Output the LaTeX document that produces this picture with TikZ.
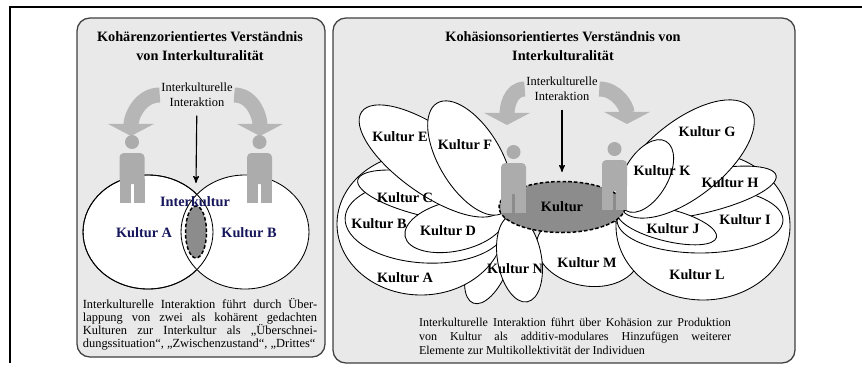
\documentclass[tikz,border=0pt]{standalone}
\usepackage{fontspec}
\setmainfont{Liberation Serif}
\usepackage{tikz}
\usetikzlibrary{calc,positioning,arrows,arrows.meta,shapes.geometric}
\definecolor{panelgray}{RGB}{233,233,233}
\definecolor{figgray}{RGB}{172,172,172}
\definecolor{swooshgray}{RGB}{182,182,182}
\definecolor{darkfill}{RGB}{140,140,140}
\definecolor{navy}{RGB}{22,22,92}
\newcommand{\paratxt}{\tolerance=9999\relax\hyphenpenalty=10000\relax}

\begin{document}
\begin{tikzpicture}[x=0.7pt,y=0.7pt,>=stealth',
    panel/.style={draw=black!75,line width=0.9pt,fill=panelgray,rounded corners=9pt},
    petal/.style={draw,fill=white,line width=0.6pt},
    core/.style={draw,ellipse,dash pattern=on 2.5pt off 1.5pt,line width=1.05pt,fill=darkfill,inner sep=0pt},
    lbl/.style={font=\bfseries\fontsize{10}{12}\selectfont,inner sep=0pt},
    heading/.style={font=\bfseries\fontsize{10}{13.3}\selectfont,align=center,inner sep=0pt},
    note/.style={font=\fontsize{8.7}{10.5}\selectfont,align=center,inner sep=1pt},
    para/.style={align=justify,inner sep=0pt},
    swoosh/.style={line width=10.5pt,draw=swooshgray,-{Triangle[width=32pt,length=8.5pt]}},
    person/.pic={
      \fill[figgray] (0,11) circle (7);
      \fill[figgray,rounded corners=3pt] (-12.5,0) rectangle (12.5,-31);
      \fill[figgray] (-12.5,-26) rectangle (-1.5,-50);
      \fill[figgray] (1.5,-26) rectangle (12.5,-50);
    }]
  \useasboundingbox (0,0) rectangle (862,-375);
  \draw[line width=0.9pt] (10,-363) -- (10,-7) -- (862,-7);

  % left: Kohaerenz
  \draw[panel] (77,-18) rectangle (325,-357);
  \node[heading] (titleL) at (200,-46) {Kohärenzorientiertes Verständnis\\von Interkulturalität};
  \node[note] (iaL) at (197,-95) {Interkulturelle\\Interaktion};
  \coordinate (tipLL) at (131,-136);
  \coordinate (tipLR) at (260,-136);
  \draw[swoosh] (iaL.west) to[out=180,in=90] (tipLL);
  \draw[swoosh] (iaL.east) to[out=0,in=90] (tipLR);
  \coordinate (xtop) at (196,-183);
  \draw[->,line width=0.8pt,shorten <=5pt] (iaL) -- (xtop);

  \draw[petal] (148,-232) ellipse [x radius=65, y radius=57];
  \draw[petal] (245,-232) ellipse [x radius=64, y radius=57];
  \draw[line width=0.6pt] (148,-232) ellipse [x radius=65, y radius=57];
  \node[core,minimum width=14.7pt,minimum height=36.4pt] (lens) at (196,-232) {};
  \pic at (132,-153) {person};
  \pic at (259.5,-153) {person};
  \node[lbl,text=navy] (interk) at (195,-202) {Interkultur};
  \node[lbl,text=navy] (kA) at (144,-233) {Kultur A};
  \node[lbl,text=navy] (kB) at (249,-233) {Kultur B};
  \node[para,text width=164pt,font=\fontsize{8.7}{9.1}\selectfont\paratxt] (descL) at (200,-324.5) {Interkulturelle Interaktion führt durch Über-\linebreak lappung von zwei als kohärent gedachten\linebreak Kulturen zur Interkultur als „Überschnei-\linebreak dungssituation“, „Zwischenzustand“, „Drittes“};

  % right: Kohaesion
  \draw[panel] (333,-18) rectangle (795,-363);
  \node[heading] (titleR) at (563,-46) {Kohäsionsorientiertes Verständnis von\\Interkulturalität};
  \node[note] (iaR) at (562,-89) {Interkulturelle\\Interaktion};
  \coordinate (tipRL) at (507,-125);
  \coordinate (tipRR) at (627,-124);
  \draw[swoosh] (iaR.west) to[out=180,in=90] (tipRL);
  \draw[swoosh] (iaR.east) to[out=0,in=90] (tipRR);
  \coordinate (ktop) at (562,-172);
  \draw[->,line width=0.8pt,shorten <=5pt] (iaR) -- (ktop);

  \draw[petal,rotate around={-21:(489,-262)}] (489,-262) ellipse [x radius=20, y radius=44];
  \draw[petal] (421,-224) ellipse [x radius=84, y radius=71];
  \draw[petal,rotate around={-3:(426,-222)}] (426,-222) ellipse [x radius=81, y radius=41];
  \draw[petal,rotate around={-12.5:(430,-196)}] (430,-196) ellipse [x radius=74, y radius=21];
  \draw[petal,rotate around={12:(455,-226)}] (455,-226) ellipse [x radius=51, y radius=25];
  \draw[petal,rotate around={-35.4:(431,-161)}] (431,-161) ellipse [x radius=85, y radius=33];
  \draw[petal,rotate around={-59:(470,-158)}] (470,-158) ellipse [x radius=64, y radius=31];
  \draw[petal,rotate around={-10:(588,-250)}] (588,-250) ellipse [x radius=52, y radius=36];
  \draw[petal] (703,-226) ellipse [x radius=87, y radius=74];
  \draw[petal] (700,-220) ellipse [x radius=83, y radius=33];
  \draw[petal,rotate around={12.6:(698,-193)}] (698,-193) ellipse [x radius=80, y radius=21];
  \draw[petal,rotate around={-14:(667,-225)}] (667,-225) ellipse [x radius=51, y radius=16];
  \draw[petal,rotate around={38.6:(686,-159)}] (686,-159) ellipse [x radius=82, y radius=38];
  \draw[petal,rotate around={60:(646,-176)}] (646,-176) ellipse [x radius=40, y radius=22];
  \draw[petal,rotate around={10:(519.5,-258.5)}] (519.5,-258.5) ellipse [x radius=22, y radius=44];

  \node[core,minimum width=88.2pt,minimum height=35.7pt,font=\bfseries\fontsize{10}{12}\selectfont] (kultur) at (562,-207) {Kultur};
  \pic at (513.5,-163) {person};
  \pic at (614.5,-160) {person};

  \node[lbl] (kE) at (400,-137) {Kultur E};
  \node[lbl] (kF) at (465,-145) {Kultur F};
  \node[lbl] (kC) at (405,-198) {Kultur C};
  \node[lbl] (kB2) at (379,-224) {Kultur B};
  \node[lbl] (kD) at (448,-231) {Kultur D};
  \node[lbl] (kA2) at (405,-278) {Kultur A};
  \node[lbl] (kN) at (515,-269) {Kultur N};
  \node[lbl] (kM) at (587,-263) {Kultur M};
  \node[lbl] (kG) at (707,-132) {Kultur G};
  \node[lbl] (kK) at (662,-171) {Kultur K};
  \node[lbl] (kH) at (730,-183) {Kultur H};
  \node[lbl] (kI) at (745,-220) {Kultur I};
  \node[lbl] (kJ) at (673,-229) {Kultur J};
  \node[lbl] (kL) at (697,-275) {Kultur L};
  \node[para,text width=218.4pt,font=\fontsize{8.45}{9.8}\selectfont\paratxt] (descR) at (575,-336) {Interkulturelle Interaktion führt über Kohäsion zur Produktion\linebreak von Kultur als additiv-modulares Hinzufügen weiterer\linebreak Elemente zur Multikollektivität der Individuen};
\end{tikzpicture}
\end{document}
